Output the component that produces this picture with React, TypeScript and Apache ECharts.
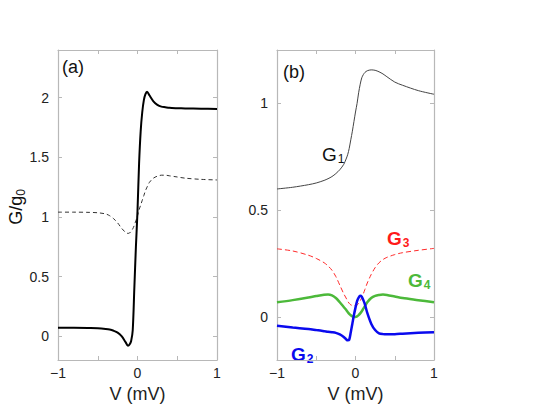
import React, { useEffect, useRef } from "react";
import * as echarts from "echarts";

// Bias voltage grid (mV)
const V = [-1, -0.8, -0.6, -0.5, -0.4, -0.35, -0.3, -0.25, -0.2, -0.15, -0.12, -0.1, -0.08, -0.06, -0.04, -0.02, 0, 0.02, 0.04, 0.06, 0.08, 0.1, 0.12, 0.15, 0.2, 0.25, 0.3, 0.35, 0.4, 0.5, 0.6, 0.8, 1];

// Panel (a)
const aSolid = [0.07, 0.07, 0.068, 0.066, 0.06, 0.055, 0.045, 0.03, 0.0, -0.05, -0.08, -0.07, -0.04, 0.05, 0.4, 0.75, 1.05, 1.45, 1.72, 1.88, 1.98, 2.03, 2.05, 2.02, 1.97, 1.94, 1.925, 1.92, 1.915, 1.912, 1.91, 1.908, 1.906];
const aDashed = [1.04, 1.04, 1.038, 1.035, 1.025, 1.01, 0.985, 0.95, 0.905, 0.87, 0.862, 0.865, 0.88, 0.9, 0.93, 0.97, 1.01, 1.06, 1.1, 1.14, 1.18, 1.22, 1.25, 1.29, 1.325, 1.342, 1.35, 1.35, 1.345, 1.335, 1.325, 1.315, 1.31];

// Panel (b)
const bG1 = [0.6, 0.608, 0.62, 0.628, 0.64, 0.648, 0.658, 0.672, 0.69, 0.715, 0.74, 0.76, 0.79, 0.83, 0.87, 0.915, 0.96, 1.0, 1.05, 1.09, 1.12, 1.135, 1.145, 1.153, 1.157, 1.155, 1.148, 1.138, 1.125, 1.1, 1.085, 1.06, 1.043];
const bG2 = [-0.04, -0.048, -0.055, -0.06, -0.065, -0.068, -0.07, -0.073, -0.08, -0.092, -0.103, -0.108, -0.105, -0.07, -0.03, 0.01, 0.045, 0.075, 0.092, 0.1, 0.096, 0.08, 0.06, 0.02, -0.03, -0.06, -0.075, -0.079, -0.08, -0.079, -0.077, -0.073, -0.07];
const bG3 = [0.32, 0.31, 0.29, 0.275, 0.255, 0.24, 0.22, 0.19, 0.15, 0.11, 0.09, 0.075, 0.065, 0.058, 0.055, 0.054, 0.055, 0.057, 0.065, 0.077, 0.092, 0.11, 0.13, 0.16, 0.2, 0.232, 0.255, 0.27, 0.28, 0.293, 0.302, 0.313, 0.322];
const bG4 = [0.07, 0.08, 0.092, 0.099, 0.105, 0.106, 0.102, 0.09, 0.07, 0.048, 0.035, 0.025, 0.016, 0.009, 0.004, 0.001, 0.001, 0.004, 0.01, 0.018, 0.028, 0.04, 0.052, 0.07, 0.09, 0.1, 0.104, 0.106, 0.104, 0.097, 0.09, 0.08, 0.07];

// Tick values
const xTicks = [-1, -0.5, 0, 0.5, 1];
const xLabels = [-1, 0, 1];
const aYTicks = [0, 0.5, 1, 1.5, 2];
const bYTicks = [0, 0.5, 1];

const FONT = "'Liberation Sans', Arial, Helvetica, sans-serif";
const AXIS_COLOR = "#b8b8b8";

const pts = (ys: number[]) => V.map((v, i) => [v, ys[i]]);

const fmtX = (v: number) => (v < 0 ? "\u2212" + Math.abs(v) : String(v));

function xAxes(gridIndex: number) {
  return [
    {
      type: "value",
      gridIndex,
      position: "bottom",
      min: -1,
      max: 1,
      interval: 0.5,
      axisLine: { show: true, onZero: false, lineStyle: { color: AXIS_COLOR, width: 1.2 } },
      axisTick: { show: true, inside: true, length: 4, customValues: xTicks, lineStyle: { color: AXIS_COLOR } },
      axisLabel: { show: true, customValues: xLabels, formatter: fmtX, color: "#222", fontSize: 14, fontFamily: FONT, margin: 6 },
      splitLine: { show: false },
      name: "V (mV)",
      nameLocation: "middle",
      nameGap: 20,
      nameTextStyle: { color: "#222", fontSize: 18, fontFamily: FONT },
    },
    {
      type: "value",
      gridIndex,
      position: "top",
      min: -1,
      max: 1,
      interval: 0.5,
      axisLine: { show: true, onZero: false, lineStyle: { color: AXIS_COLOR, width: 1.2 } },
      axisTick: { show: true, inside: true, length: 4, customValues: xTicks, lineStyle: { color: AXIS_COLOR } },
      axisLabel: { show: false },
      splitLine: { show: false },
    },
  ];
}

function yAxes(gridIndex: number, min: number, max: number, ticks: number[]) {
  return [
    {
      type: "value",
      gridIndex,
      position: "left",
      min,
      max,
      axisLine: { show: true, onZero: false, lineStyle: { color: AXIS_COLOR, width: 1.2 } },
      axisTick: { show: true, inside: true, length: 4, customValues: ticks, lineStyle: { color: AXIS_COLOR } },
      axisLabel: { show: true, customValues: ticks, color: "#222", fontSize: 14, fontFamily: FONT, margin: 9 },
      splitLine: { show: false },
    },
    {
      type: "value",
      gridIndex,
      position: "right",
      min,
      max,
      axisLine: { show: true, onZero: false, lineStyle: { color: AXIS_COLOR, width: 1.2 } },
      axisTick: { show: true, inside: true, length: 4, customValues: ticks, lineStyle: { color: AXIS_COLOR } },
      axisLabel: { show: false },
      splitLine: { show: false },
    },
  ];
}

function line(data: number[], xi: number, yi: number, color: string, width: number, type: any = "solid") {
  return {
    type: "line",
    xAxisIndex: xi,
    yAxisIndex: yi,
    data: pts(data),
    showSymbol: false,
    smooth: 0.3,
    lineStyle: { color, width, type },
    emphasis: { disabled: true },
  };
}

function label(text: string, sub: string, x: number, y: number, color: string, bold: boolean) {
  return {
    type: "text",
    x,
    y,
    style: {
      text: `{g|${text}}{s|${sub}}`,
      rich: {
        g: { fontSize: 19, fontFamily: FONT, fontWeight: bold ? "bold" : "normal", fill: color, color },
        s: { fontSize: 12, fontFamily: FONT, fontWeight: bold ? "bold" : "normal", fill: color, color, padding: [10, 0, 0, 1] },
      },
      textVerticalAlign: "middle",
    },
  };
}

export default function App() {
  const ref = useRef<HTMLDivElement>(null);
  useEffect(() => {
    document.body.style.margin = "0";
    const chart = echarts.init(ref.current!, null, { renderer: "svg" });
    chart.setOption({
      animation: false,
      backgroundColor: "#fff",
      grid: [
        { left: 58, top: 50, width: 159, height: 310 },
        { left: 277, top: 50, width: 157, height: 310 },
      ],
      xAxis: [...xAxes(0), ...xAxes(1)],
      yAxis: [...yAxes(0, -0.2, 2.4, aYTicks), ...yAxes(1, -0.2, 1.25, bYTicks)],
      series: [
        line(aDashed, 0, 0, "#333", 1, [4, 3]),
        line(aSolid, 0, 0, "#000", 2),
        line(bG1, 2, 2, "#444", 1),
        line(bG3, 2, 2, "#ff2a2a", 1, [5, 3]),
        line(bG4, 2, 2, "#4cb93a", 2.5),
        line(bG2, 2, 2, "#0a0aee", 2.5),
      ],
      graphic: [
        { type: "text", x: 62, y: 67, style: { text: "(a)", fontSize: 18, fontFamily: FONT, fill: "#111", textVerticalAlign: "middle" } },
        { type: "text", x: 283, y: 72, style: { text: "(b)", fontSize: 18, fontFamily: FONT, fill: "#111", textVerticalAlign: "middle" } },
        {
          type: "text",
          x: 16,
          y: 207,
          rotation: Math.PI / 2,
          style: {
            text: "{g|G/g}{s|0}",
            rich: {
              g: { fontSize: 18, fontFamily: FONT, fill: "#111", color: "#111" },
              s: { fontSize: 12, fontFamily: FONT, fill: "#111", color: "#111", padding: [10, 0, 0, 0] },
            },
            textAlign: "center",
            textVerticalAlign: "middle",
          },
        },
        label("G", "1", 322, 154, "#111", false),
        label("G", "3", 387, 238, "#ff1a1a", true),
        label("G", "4", 408, 280, "#4cb93a", true),
        label("G", "2", 291, 354, "#0a0aee", true),
      ],
    });
    return () => chart.dispose();
  }, []);
  return <div ref={ref} style={{ width: 533, height: 412 }} />;
}
